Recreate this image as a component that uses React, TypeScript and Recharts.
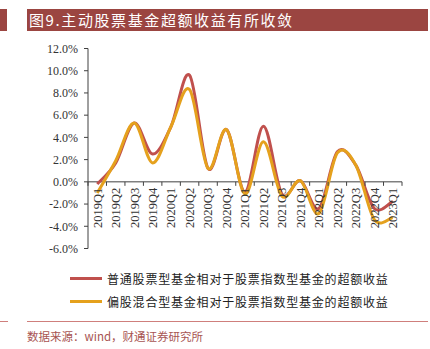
import React from "react";
import { LineChart, Line, XAxis, YAxis, ReferenceLine } from "recharts";

const quarters = [
  "2019Q1", "2019Q2", "2019Q3", "2019Q4",
  "2020Q1", "2020Q2", "2020Q3", "2020Q4",
  "2021Q1", "2021Q2", "2021Q3", "2021Q4",
  "2022Q1", "2022Q2", "2022Q3", "2022Q4",
  "2023Q1",
];
// 普通股票型基金相对于股票指数型基金的超额收益 (%)
const stockFundExcess = [-0.2, 1.7, 5.3, 2.5, 5.0, 9.6, 1.2, 4.7, -0.9, 5.0, -1.1, 0.1, -2.4, 2.7, 1.5, -2.4, -1.75];
// 偏股混合型基金相对于股票指数型基金的超额收益 (%)
const mixedFundExcess = [-1.0, 1.9, 5.3, 1.7, 5.0, 8.3, 1.2, 4.7, -1.1, 3.6, -1.3, 0.1, -2.85, 2.6, 1.5, -3.4, -3.2];
const yTicks = [-6, -4, -2, 0, 2, 4, 6, 8, 10, 12];

const seriesNames = [
  "普通股票型基金相对于股票指数型基金的超额收益",
  "偏股混合型基金相对于股票指数型基金的超额收益",
];

const RED = "#C0504D";
const GOLD = "#E5A11D";
const BAR = "#9B4541";

// plot box in page pixels
const PLOT_LEFT = 88;
const PLOT_RIGHT = 402;
const PLOT_TOP = 48.5;
const PLOT_BOTTOM = 248.5;
const STEP = (PLOT_RIGHT - PLOT_LEFT) / quarters.length;
const ZERO_Y = PLOT_TOP + ((PLOT_BOTTOM - PLOT_TOP) * 12) / 18;

const data = quarters.map((q, i) => ({
  name: q,
  stock: stockFundExcess[i],
  mixed: mixedFundExcess[i],
}));

// smoothed line like the office chart (catmull-rom through the points)
function smoothCurve(context: any) {
  let pts: number[][] = [];
  return {
    areaStart() {},
    areaEnd() {},
    lineStart() {
      pts = [];
    },
    point(x: number, y: number) {
      pts.push([+x, +y]);
    },
    lineEnd() {
      if (!pts.length) return;
      context.moveTo(pts[0][0], pts[0][1]);
      for (let i = 0; i < pts.length - 1; i++) {
        const p0 = pts[i - 1] || pts[i];
        const p1 = pts[i];
        const p2 = pts[i + 1];
        const p3 = pts[i + 2] || p2;
        context.bezierCurveTo(
          p1[0] + (p2[0] - p0[0]) / 6,
          p1[1] + (p2[1] - p0[1]) / 6,
          p2[0] - (p3[0] - p1[0]) / 6,
          p2[1] - (p3[1] - p1[1]) / 6,
          p2[0],
          p2[1]
        );
      }
    },
  };
}

// category labels sit on the zero line, tick marks between categories
function QuarterTick(props: any) {
  const { x, index, payload } = props;
  const last = index === quarters.length - 1;
  const ty = ZERO_Y + 6;
  return (
    <g>
      <line x1={x - STEP / 2} x2={x - STEP / 2} y1={ZERO_Y} y2={ZERO_Y + 4} stroke="#404040" />
      {last && <line x1={x + STEP / 2} x2={x + STEP / 2} y1={ZERO_Y} y2={ZERO_Y + 4} stroke="#404040" />}
      <text
        x={x}
        y={ty}
        transform={`rotate(-90, ${x}, ${ty})`}
        textAnchor="end"
        dy="0.35em"
        fontSize={12.5}
        fontFamily="Liberation Serif"
        fill="#333"
      >
        {payload.value}
      </text>
    </g>
  );
}

export default function App() {
  const cjk = "'Noto Sans CJK SC', sans-serif";
  return (
    <div style={{ position: "absolute", left: 0, top: 0, width: 430, height: 349, background: "#fff" }}>
      {/* title bar */}
      <div style={{ position: "absolute", left: 0, top: 9, width: 7, height: 22, background: BAR }} />
      <div
        style={{
          position: "absolute",
          left: 27,
          top: 9,
          width: 401,
          height: 22,
          background: BAR,
          color: "#fff",
          fontFamily: cjk,
          fontSize: 15,
          letterSpacing: 1.6,
          lineHeight: "22px",
          paddingLeft: 2,
          boxSizing: "border-box",
        }}
      >
        图9.主动股票基金超额收益有所收敛
      </div>

      <LineChart
        width={430}
        height={349}
        data={data}
        margin={{ top: PLOT_TOP, right: 430 - PLOT_RIGHT, bottom: 349 - PLOT_BOTTOM - 1, left: 0 }}
        style={{ position: "absolute", left: 0, top: 0 }}
      >
        <XAxis
          dataKey="name"
          height={1}
          axisLine={false}
          tickLine={false}
          interval={0}
          padding={{ left: STEP / 2, right: STEP / 2 }}
          tick={(p: any) => <QuarterTick {...p} />}
        />
        <YAxis
          width={PLOT_LEFT}
          domain={[-6, 12]}
          ticks={yTicks}
          interval={0}
          tickFormatter={(v: number) => v.toFixed(1) + "%"}
          axisLine={{ stroke: "#404040" }}
          tickLine={{ stroke: "#404040" }}
          tickSize={4}
          tickMargin={6}
          tick={{ fontSize: 12, fontFamily: "Liberation Serif", fill: "#333" }}
        />
        <ReferenceLine y={0} stroke="#404040" />
        <Line
          dataKey="stock"
          type={smoothCurve as any}
          stroke={RED}
          strokeWidth={3}
          dot={false}
          activeDot={false}
          isAnimationActive={false}
        />
        <Line
          dataKey="mixed"
          type={smoothCurve as any}
          stroke={GOLD}
          strokeWidth={3}
          dot={false}
          activeDot={false}
          isAnimationActive={false}
        />
      </LineChart>

      {/* legend */}
      {seriesNames.map((name, i) => (
        <div
          key={name}
          style={{ position: "absolute", left: 70, top: 270 + i * 23.5, height: 16, display: "flex", alignItems: "center" }}
        >
          <div style={{ width: 32, height: 3, background: i === 0 ? RED : GOLD }} />
          <span
            style={{
              marginLeft: 5,
              fontFamily: cjk,
              fontSize: 12,
              letterSpacing: 0.8,
              color: "#222",
              whiteSpace: "nowrap",
            }}
          >
            {name}
          </span>
        </div>
      ))}

      {/* divider + source */}
      <div style={{ position: "absolute", left: 0, top: 321, width: 8, height: 1, background: "#CF7F7C" }} />
      <div style={{ position: "absolute", left: 27, top: 321, width: 401, height: 1, background: "#CF7F7C" }} />
      <div
        style={{
          position: "absolute",
          left: 27,
          top: 328,
          fontFamily: cjk,
          fontSize: 11.5,
          color: "#A85552",
          whiteSpace: "nowrap",
          lineHeight: "16px",
        }}
      >
        数据来源：wind，财通证券研究所
      </div>
    </div>
  );
}
